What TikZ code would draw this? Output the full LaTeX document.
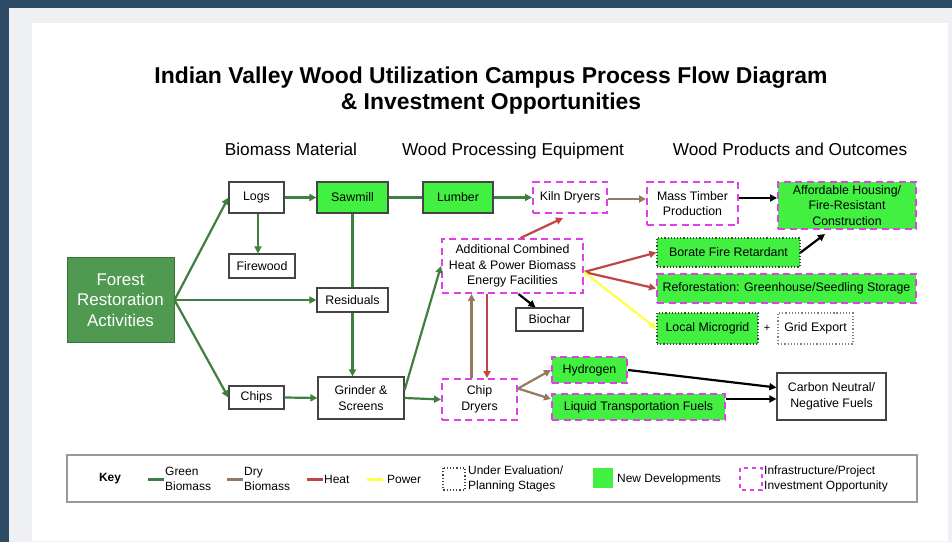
\documentclass[tikz,border=0pt]{standalone}
\usepackage{fontspec}
\setmainfont{Liberation Sans}
\usetikzlibrary{arrows.meta}

\definecolor{frameblue}{HTML}{2E4B66}
\definecolor{panelgray}{HTML}{EEF0F3}
\definecolor{greenbio}{HTML}{3F7F3F}
\definecolor{drybio}{HTML}{957A60}
\definecolor{heatred}{HTML}{C04545}
\definecolor{poweryel}{HTML}{FFFF44}
\definecolor{newgreen}{HTML}{42F042}
\definecolor{invmag}{HTML}{E040E8}
\definecolor{forestgrn}{HTML}{4F9A50}
\definecolor{edgegray}{HTML}{444444}

\newcommand\titlefont{\fontsize{23}{26}\selectfont\bfseries}
\newcommand\headfont{\fontsize{17.3}{20}\selectfont}
\newcommand\boxfont{\fontsize{12.4}{15.5}\selectfont}
\newcommand\keyfont{\fontsize{12}{15}\selectfont}

\tikzset{
  box/.style={draw=edgegray, line width=1.2bp, fill=white, inner sep=0pt,
    align=center, font=\boxfont},
  newdev/.style={box, fill=newgreen},
  invest/.style={draw=invmag, line width=2bp, dash pattern=on 7bp off 4.5bp},
  planning/.style={draw=edgegray, line width=1.2bp, dotted},
  flow/.style={->, line width=2.2bp},
}

\begin{document}
\begin{tikzpicture}[x=1bp,y=-1bp,>={Triangle[length=7bp,width=7bp]}]
  \useasboundingbox (0,0) rectangle (952,542);
  % frame and page
  \fill[frameblue] (0,0) rectangle (952,542);
  \fill[panelgray] (9,8) rectangle (952,542);
  \fill[white] (32,23) rectangle (948,541);

  % title and column heads
  \node[font=\titlefont, align=center] (title) at (491,91)
    {Indian Valley Wood Utilization Campus Process Flow Diagram\\
     \& Investment Opportunities};
  \node[font=\headfont, anchor=base] (headbio) at (291,156) {Biomass Material};
  \node[font=\headfont, anchor=base] (headequip) at (513,156) {Wood Processing Equipment};
  \node[font=\headfont, anchor=base] (headprod) at (790,156) {Wood Products and Outcomes};

  % biomass material
  \node[draw=forestgrn!75!black, line width=1bp, fill=forestgrn, text=white,
    minimum width=107bp, minimum height=84bp, inner sep=0pt, align=center,
    font=\fontsize{17}{20.5}\selectfont] (forest) at (120.5,300)
    {Forest\\Restoration\\Activities};
  \node[box, minimum width=55bp, minimum height=31bp] (logs) at (256.5,197.5) {Logs};
  \node[box, minimum width=66bp, minimum height=24bp] (firewood) at (262,266) {Firewood};
  \node[box, minimum width=71bp, minimum height=24bp] (residuals) at (352.5,300) {Residuals};
  \node[box, minimum width=55bp, minimum height=23bp] (chips) at (256.5,397.5) {Chips};

  % processing equipment
  \node[newdev, minimum width=71bp, minimum height=31bp] (sawmill) at (352.5,197.5) {Sawmill};
  \node[box, minimum width=86bp, minimum height=42bp] (grinder) at (361,398) {Grinder \&\\Screens};
  \node[newdev, minimum width=70bp, minimum height=31bp] (lumber) at (458,197.5) {Lumber};
  \node[box, invest, minimum width=74bp, minimum height=31bp] (kiln) at (570,197.5) {Kiln Dryers};
  \node[box, invest, minimum width=141bp, minimum height=54bp] (chp) at (512.5,266)
    {Additional Combined\\Heat \& Power Biomass\\Energy Facilities};
  \node[box, minimum width=67bp, minimum height=23bp] (biochar) at (549.5,319.5) {Biochar};
  \node[box, invest, minimum width=75bp, minimum height=41bp] (chipdry) at (479.5,399.5) {Chip\\Dryers};
  \node[newdev, invest, minimum width=75bp, minimum height=26bp] (hydrogen) at (589.5,370) {Hydrogen};
  \node[newdev, invest, minimum width=173bp, minimum height=26bp] (liquid) at (638.5,407)
    {Liquid Transportation Fuels};

  % products and outcomes
  \node[box, invest, minimum width=91bp, minimum height=43bp] (masstimber) at (692.5,203.5)
    {Mass Timber\\Production};
  \node[newdev, invest, minimum width=138bp, minimum height=47bp] (housing) at (847,205.5)
    {Affordable Housing/\\Fire-Resistant\\Construction};
  \node[newdev, planning, minimum width=143bp, minimum height=29bp] (borate) at (728.5,252.5)
    {Borate Fire Retardant};
  \node[newdev, invest, minimum width=259bp, minimum height=29bp] (reforest) at (786.5,288.5)
    {Reforestation: Greenhouse/Seedling Storage};
  \node[newdev, planning, minimum width=101bp, minimum height=31bp] (microgrid) at (707.5,328.5)
    {Local Microgrid};
  \node[font=\fontsize{11}{12}\selectfont] (plus) at (767,328.5) {+};
  \node[box, planning, draw=gray, minimum width=75bp, minimum height=31bp] (gridexp) at (815.5,328.5)
    {Grid Export};
  \node[box, minimum width=109bp, minimum height=47bp] (carbon) at (831.5,396.5)
    {Carbon Neutral/\\Negative Fuels};

  % green biomass
  \draw[flow, greenbio] (forest.east) -- (logs.west);
  \draw[flow, greenbio] (forest.east) -- (residuals.west);
  \draw[flow, greenbio] (forest.east) -- (chips.west);
  \draw[flow, greenbio] (logs.east) -- (sawmill.west);
  \draw[flow, greenbio] ([xshift=1.5bp]logs.south) -- ([xshift=1.5bp]logs.south |- firewood.north);
  \draw[line width=2.2bp, greenbio] (sawmill.east) -- (lumber.west);
  \draw[line width=2.2bp, greenbio] (sawmill.south) -- (residuals.north);
  \draw[flow, greenbio] (residuals.south) -- (residuals.south |- grinder.north);
  \draw[flow, greenbio] (chips.east) -- (grinder.west);
  \draw[flow, greenbio] ([yshift=8bp]grinder.east) -- (chp.west);
  \draw[flow, greenbio] (grinder.east) -- (chipdry.west);
  \draw[flow, greenbio] (lumber.east) -- (kiln.west);

  % dry biomass
  \draw[flow, drybio] ([yshift=-1.5bp]kiln.east) -- ([yshift=-1.5bp]kiln.east -| masstimber.west);
  \draw[flow, drybio] ([xshift=-8bp]chipdry.north) -- ([xshift=-8bp]chipdry.north |- chp.south);
  \coordinate (drysplit) at ([yshift=11bp]chipdry.east);
  \draw[flow, drybio] (drysplit) -- (hydrogen.west);
  \draw[flow, drybio] (drysplit) -- ([yshift=8bp]liquid.west);

  % heat and power
  \draw[flow, heatred] ([xshift=8bp]chp.north) -- ([xshift=-7bp,yshift=-4bp]kiln.south);
  \draw[flow, heatred] ([xshift=7.5bp]chipdry.north |- chp.south) -- ([xshift=7.5bp]chipdry.north);
  \coordinate (chpout) at ([yshift=-6bp]chp.east);
  \draw[flow, heatred] (chpout) -- (borate.west);
  \draw[flow, heatred] (chpout) -- (reforest.west);
  \draw[flow, poweryel] (chpout) -- (microgrid.west);

  % outcomes
  \draw[flow, black] ([yshift=5.5bp]masstimber.east) -- ([yshift=5.5bp]masstimber.east -| housing.west);
  \draw[flow, black] (borate.east) -- ([xshift=-22bp,yshift=-4bp]housing.south);
  \draw[flow, black] ([xshift=6bp]chp.south) -- ([xshift=-14bp]biochar.north);
  \draw[flow, black] (hydrogen.east) -- ([yshift=9bp]carbon.west);
  \draw[flow, black] ([yshift=8bp]liquid.east) -- ([yshift=8bp]liquid.east -| carbon.west);

  % key
  \draw[draw=gray!80, line width=1.2bp] (67,455) rectangle (917,502);
  \node[font=\keyfont\bfseries] (keylbl) at (110,479) {Key};
  \draw[greenbio, line width=3bp] (148,479) -- (164,479);
  \node[anchor=west, font=\keyfont, align=left, inner sep=1bp] (keygreen) at (164,479) {Green\\Biomass};
  \draw[drybio, line width=3bp] (227,479) -- (243,479);
  \node[anchor=west, font=\keyfont, align=left, inner sep=1bp] (keydry) at (243,479) {Dry\\Biomass};
  \draw[heatred, line width=3bp] (307,479) -- (323,479);
  \node[anchor=west, font=\keyfont, inner sep=1bp] (keyheat) at (323,479) {Heat};
  \draw[poweryel, line width=3bp] (367,479) -- (383,479);
  \node[anchor=west, font=\keyfont, inner sep=1bp] (keypower) at (386,479) {Power};
  \draw[planning] (443,468) rectangle (465,490);
  \node[anchor=west, font=\keyfont, align=left, inner sep=1bp] (keyplan) at (467,479)
    {Under Evaluation/\\Planning Stages};
  \fill[newgreen] (593,468) rectangle (613,488);
  \node[anchor=west, font=\keyfont, inner sep=1bp] (keynew) at (616,479) {New Developments};
  \draw[invest, dash pattern=on 4bp off 4bp] (740,468) rectangle (762,490);
  \node[anchor=west, font=\keyfont, align=left, inner sep=1bp] (keyinv) at (763,479)
    {Infrastructure/Project\\Investment Opportunity};
\end{tikzpicture}
\end{document}
